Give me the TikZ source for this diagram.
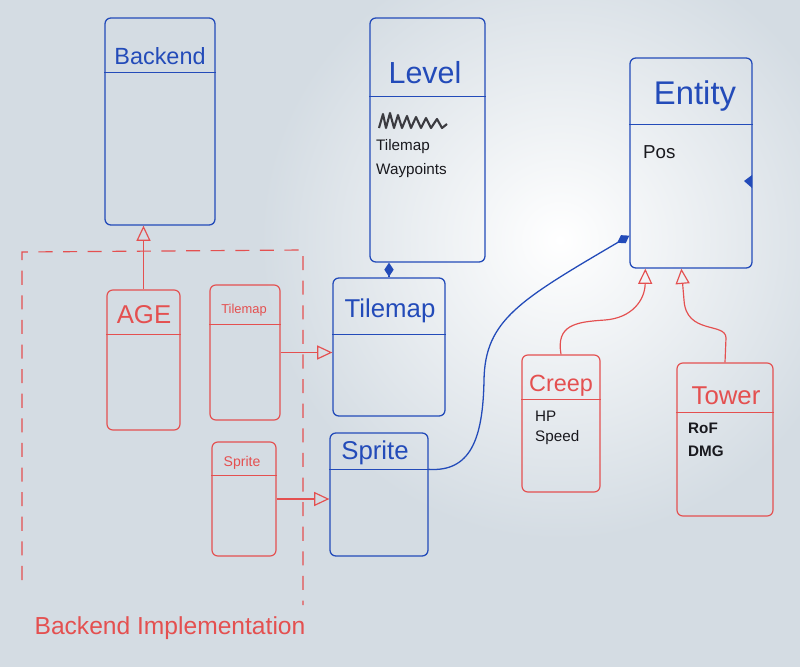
\documentclass[tikz,border=0pt]{standalone}
\usepackage{fontspec}
\setmainfont{Liberation Sans}
\usetikzlibrary{fit,calc,arrows.meta}
\definecolor{wb}{RGB}{212,220,227}
\definecolor{mkblue}{RGB}{35,75,185}
\definecolor{mkred}{RGB}{228,80,80}
\definecolor{mkblack}{RGB}{25,25,30}
\begin{document}
\begin{tikzpicture}[x=0.03cm,y=-0.03cm,
 bbox/.style={draw=mkblue,line width=1.1pt,inner sep=0pt,rounded corners=5pt},
 rbox/.style={draw=mkred,line width=1pt,inner sep=0pt,rounded corners=5pt},
 bline/.style={draw=mkblue,line width=1.1pt},
 rline/.style={draw=mkred,line width=1pt},
 ttl/.style={font=\fontsize{#1}{#1}\selectfont,inner sep=0pt},
 attr/.style={font=\fontsize{13}{13}\selectfont,text=mkblack,anchor=west,inner sep=0pt},
 inh/.style={-{Triangle[open,length=13pt,width=12pt]}},
 comp/.style={-{Diamond[length=12pt,width=8pt]}},
 compstart/.style={{Diamond[length=12pt,width=8pt]}-},
]
\clip (0,0) rectangle (800,667);
\fill[wb] (0,0) rectangle (800,667);
\shade[inner color=white,outer color=wb] (560,240) circle (300);

% blue classes
\node[bbox,fit={(105,18) (215,225)}] (backend) {};
\node[ttl=20,text=mkblue] (backendT) at (160,56) {Backend};
\draw[bline] ($(backend.north west)+(0,55)$) -- ($(backend.north east)+(0,55)$);

\node[bbox,fit={(370,18) (485,262)}] (level) {};
\node[ttl=26,text=mkblue] (levelT) at (425,73) {Level};
\draw[bline] ($(level.north west)+(0,79)$) -- ($(level.north east)+(0,79)$);
\draw[mkblack!85,line width=1.8pt,line join=round] (379,128) -- (383,114) -- (386,128) -- (390,113) -- (394,128) -- (398,115) -- (402,128) -- (407,116) -- (411,128) -- (416,117) -- (421,128) -- (426,118) -- (431,128) -- (437,119) -- (442,128) -- (447,124);
\node[attr] (levelA1) at (376,147) {Tilemap};
\node[attr] (levelA2) at (376,171) {Waypoints};

\node[bbox,fit={(630,58) (752,268)}] (entity) {};
\node[ttl=28,text=mkblue] (entityT) at (695,96) {Entity};
\draw[bline] ($(entity.north west)+(0,67)$) -- ($(entity.north east)+(0,67)$);
\node[attr,font=\fontsize{16}{16}\selectfont] (entityA1) at (643,152) {Pos};
\fill[mkblue] (744,181) -- (752,175) -- (752,188) -- cycle;

\node[bbox,fit={(333,278) (445,416)}] (btile) {};
\node[ttl=22,text=mkblue] (btileT) at (390,311) {Tilemap};
\draw[bline] ($(btile.north west)+(0,57)$) -- ($(btile.north east)+(0,57)$);

\node[bbox,fit={(330,433) (428,556)}] (bsprite) {};
\node[ttl=22,text=mkblue] (bspriteT) at (375,453) {Sprite};
\draw[bline] ($(bsprite.north west)+(0,37)$) -- ($(bsprite.north east)+(0,37)$);

% red classes
\draw[mkred,line width=1pt,dash pattern=on 12pt off 9pt] (22,580) -- (22,252) -- (303,250) -- (303,605);
\node[ttl=21,text=mkred] (impl) at (170,628) {Backend Implementation};

\node[rbox,fit={(107,290) (180,430)}] (age) {};
\node[ttl=22,text=mkred] (ageT) at (144,315) {AGE};
\draw[rline] ($(age.north west)+(0,45)$) -- ($(age.north east)+(0,45)$);

\node[rbox,fit={(210,285) (280,420)}] (rtile) {};
\node[ttl=11,text=mkred] (rtileT) at (244,310) {Tilemap};
\draw[rline] ($(rtile.north west)+(0,40)$) -- ($(rtile.north east)+(0,40)$);

\node[rbox,fit={(212,442) (276,556)}] (rsprite) {};
\node[ttl=12,text=mkred] (rspriteT) at (242,463) {Sprite};
\draw[rline] ($(rsprite.north west)+(0,34)$) -- ($(rsprite.north east)+(0,34)$);

\node[rbox,fit={(522,355) (600,492)}] (creep) {};
\node[ttl=20,text=mkred] (creepT) at (561,386) {Creep};
\draw[rline] ($(creep.north west)+(0,45)$) -- ($(creep.north east)+(0,45)$);
\node[attr] (creepA1) at (535,416) {HP};
\node[attr] (creepA2) at (535,438) {Speed};

\node[rbox,fit={(677,363) (773,516)}] (tower) {};
\node[ttl=22,text=mkred] (towerT) at (726,396) {Tower};
\draw[rline,line width=1.4pt] ($(tower.north west)+(0,50)$) -- ($(tower.north east)+(0,50)$);
\node[attr,font=\fontsize{13}{13}\bfseries] (towerA1) at (688,428) {RoF};
\node[attr,font=\fontsize{13}{13}\bfseries] (towerA2) at (688,451) {DMG};

% connectors
\draw[rline,inh] (age.north) -- (age.north |- backend.south);
\draw[rline,inh] (rtile.east) -- (rtile.east -| btile.west);
\draw[rline,inh] (rsprite.east) -- (rsprite.east -| bsprite.west);
\draw[bline,compstart] (level.south -| btile.north) -- (btile.north);
\draw[bline,comp] ($(bsprite.north east)+(0,37)$) .. controls (470,472) and (483,440) .. (484,380) .. controls (485,320) and (520,300) .. ($(entity.south west)+(0,-33)$);
\draw[rline,inh] (creep.north) .. controls (556,325) and (575,322) .. (605,320) .. controls (632,318) and (645,300) .. ($(entity.south west)+(16,0)$);
\draw[rline,inh] (tower.north) -- (726,338) .. controls (726,322) and (686,335) .. (684,300) -- ($(entity.south west)+(52,0)$);
\end{tikzpicture}
\end{document}
